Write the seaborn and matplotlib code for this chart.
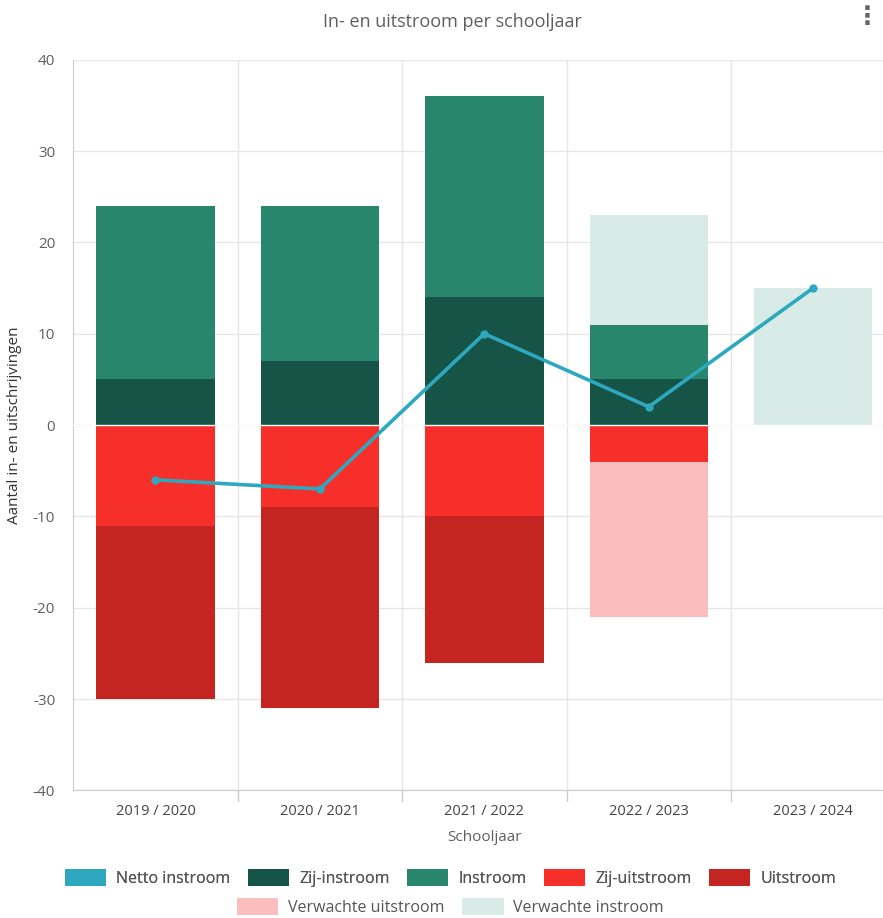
import matplotlib
matplotlib.use("Agg")
import matplotlib.pyplot as plt
from matplotlib.patches import Patch
import seaborn as sns
import numpy as np

years = ["2019 / 2020", "2020 / 2021", "2021 / 2022", "2022 / 2023", "2023 / 2024"]
zij_instroom = [5, 7, 14, 5, 0]
instroom = [19, 17, 22, 6, 0]
verwachte_instroom = [0, 0, 0, 12, 15]
zij_uitstroom = [-11, -9, -10, -4, 0]
uitstroom = [-19, -22, -16, 0, 0]
verwachte_uitstroom = [0, 0, 0, -17, 0]
netto_instroom = [-6, -7, 10, 2, 15]

c_netto = "#2EA8BE"
c_zij_in = "#175448"
c_in = "#27866B"
c_zij_uit = "#F72F2A"
c_uit = "#C52520"
c_verw_uit = "#FBBDBD"
c_verw_in = "#D8EBE6"
grey = "#5f5f5f"

sns.set_style("white")
plt.rcParams["font.family"] = ["Open Sans", "DejaVu Sans"]

fig = plt.figure(figsize=(8.83, 9.18), dpi=100)
ax = fig.add_axes([0.083, 0.139, 0.931, 0.796])

w = 0.72
zi = np.array(zij_instroom)
ins = np.array(instroom)
zu = np.array(zij_uitstroom)
us = np.array(uitstroom)

opts = dict(width=w, saturation=1, ax=ax, zorder=2, linewidth=0, edgecolor="none")
sns.barplot(x=years, y=zij_instroom, color=c_zij_in, **opts)
sns.barplot(x=years, y=instroom, bottom=zi, color=c_in, **opts)
sns.barplot(x=years, y=verwachte_instroom, bottom=zi + ins, color=c_verw_in, **opts)
sns.barplot(x=years, y=zij_uitstroom, color=c_zij_uit, **opts)
sns.barplot(x=years, y=uitstroom, bottom=zu, color=c_uit, **opts)
sns.barplot(x=years, y=verwachte_uitstroom, bottom=zu + us, color=c_verw_uit, **opts)

sns.lineplot(x=np.arange(len(years)), y=netto_instroom, color=c_netto, linewidth=2.6,
             marker="o", markersize=6, markeredgewidth=0, ax=ax, zorder=4)

ax.axhline(0, color="white", linewidth=1, zorder=3)

ax.set_ylim(-40, 40)
ax.set_xlim(-0.5, len(years) - 0.5)
ax.set_yticks(np.arange(-40, 41, 10))
ax.set_yticklabels([str(v) for v in range(-40, 41, 10)], fontsize=11, color=grey)
ax.set_xticks(range(len(years)))
ax.set_xticklabels(years, fontsize=10.5, color="#444444")
ax.tick_params(axis="x", length=0, pad=10)
ax.tick_params(axis="y", length=7, color="#cccccc", pad=6)

# grid: horizontal at ticks, vertical at category borders
for v in range(-40, 41, 10):
    ax.axhline(v, color="#e6e6e6", linewidth=1, zorder=0)
for b in np.arange(0.5, len(years) - 0.5, 1):
    ax.axvline(b, color="#e6e6e6", linewidth=1, zorder=0)
    ax.plot([b, b], [-40, -41.2], color="#cccccc", linewidth=1, clip_on=False)

for s in ["top", "right"]:
    ax.spines[s].set_visible(False)
ax.spines["left"].set_color("#cccccc")
ax.spines["bottom"].set_color("#cccccc")

ax.set_xlabel("Schooljaar", fontsize=11, color=grey, labelpad=8)
ax.set_ylabel("Aantal in- en uitschrijvingen", fontsize=11, color="#333333", labelpad=8)

fig.text(0.512, 0.976, "In- en uitstroom per schooljaar", ha="center", va="center",
         fontsize=13, color=grey)
fig.text(0.982, 0.981, "\u22ee", ha="center", va="center", fontsize=18,
         color="#666666", family=["DejaVu Sans"], fontweight="bold")

row1 = [("Netto instroom", c_netto), ("Zij-instroom", c_zij_in), ("Instroom", c_in),
        ("Zij-uitstroom", c_zij_uit), ("Uitstroom", c_uit)]
row2 = [("Verwachte uitstroom", c_verw_uit), ("Verwachte instroom", c_verw_in)]

def make_legend(items, y):
    handles = [Patch(facecolor=c, edgecolor="none", label=l) for l, c in items]
    leg = fig.legend(handles=handles, loc="center", bbox_to_anchor=(0.51, y), ncol=len(items),
                     frameon=False, fontsize=11.5, handlelength=2.6, handleheight=1.3,
                     handletextpad=0.6, columnspacing=1.1, labelcolor="#555555")
    return leg

leg1 = make_legend(row1, 0.044)
fig.add_artist(leg1)
make_legend(row2, 0.012)

fig.savefig("out.png", dpi=100)
